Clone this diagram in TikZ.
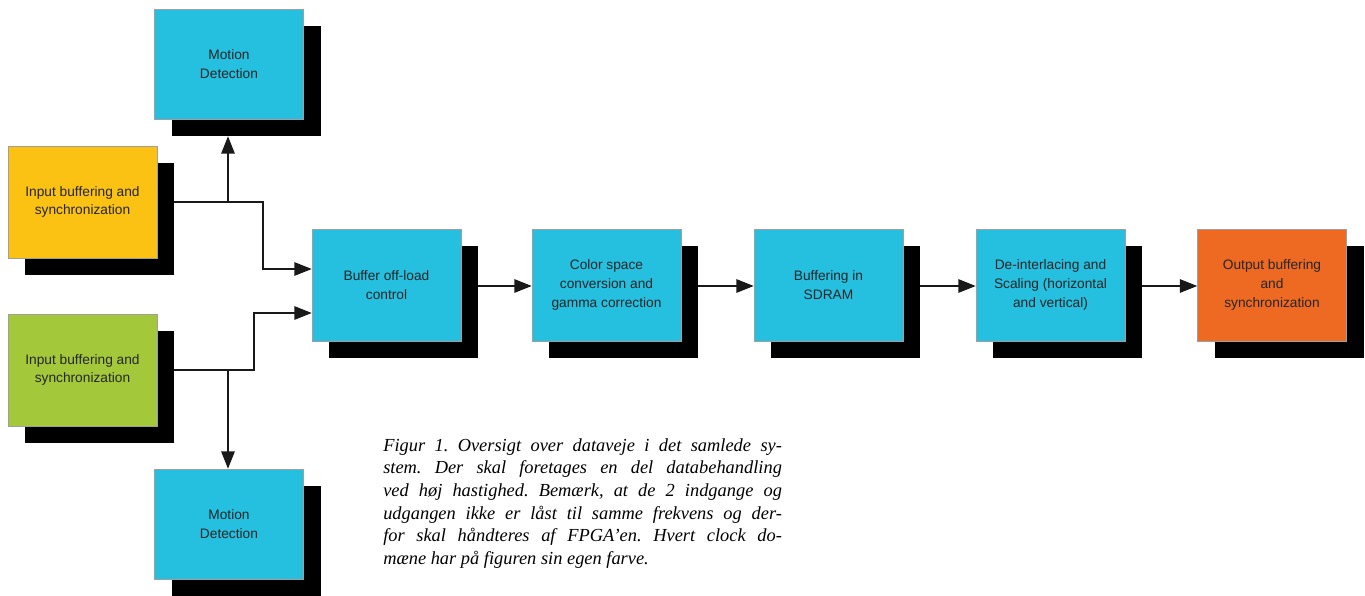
\documentclass[tikz,border=0pt]{standalone}
\usepackage{fontspec}
\setmainfont{Liberation Serif}
\newfontfamily\boxfont{Liberation Sans}
\usetikzlibrary{shadows,arrows.meta,calc}
\definecolor{cyanbox}{HTML}{25BFDF}
\definecolor{yellowbox}{HTML}{FBC214}
\definecolor{greenbox}{HTML}{A3C93A}
\definecolor{orangebox}{HTML}{EE6A22}
\begin{document}
\begin{tikzpicture}[x=0.75pt,y=-0.75pt,
  blk/.style={draw=gray!75, line width=0.4pt, minimum width=111.75pt, minimum height=84pt,
    inner sep=2pt, align=center, text=black!85,
    font=\boxfont\fontsize{10.3}{14}\selectfont,
    general shadow={fill=black, shadow xshift=12.75pt, shadow yshift=-12.75pt}},
  conn/.style={line width=1.4pt, draw=black!90},
  arr/.style={conn, -{Triangle[length=13pt,width=10pt]}}]
\useasboundingbox[fill=white] (0,0) rectangle (1365,596);

% boxes
\node[blk, fill=cyanbox, minimum height=82.5pt] (mdt) at (229,64) {Motion\\Detection};
\node[blk, fill=yellowbox] (iny) at (82.5,202) {Input buffering and\\synchronization};
\node[blk, fill=greenbox] (ing) at (82.5,370) {Input buffering and\\synchronization};
\node[blk, fill=cyanbox, minimum height=82.5pt] (mdb) at (229,524) {Motion\\Detection};
\node[blk, fill=cyanbox] (buf) at (386.5,285) {Buffer off-load\\control};
\node[blk, fill=cyanbox] (col) at (606.5,285) {Color space\\conversion and\\gamma correction};
\node[blk, fill=cyanbox] (sdr) at (828.5,285) {Buffering in\\SDRAM};
\node[blk, fill=cyanbox] (dei) at (1050.5,285) {De-interlacing and\\Scaling (horizontal\\and vertical)};
\node[blk, fill=orangebox] (out) at (1272,285) {Output buffering\\and\\synchronization};

% junction coordinates
\coordinate (jy) at (228,202);
\coordinate (jg) at (228,370);

% yellow input
\draw[arr] ($(iny.east)+(17,0)$) -- (263,202) -- (263,269) -- (buf.west |- 0,269);
\draw[arr] (jy) -- ($(mdt.south)+(-1,17)$);
% green input
\draw[arr] ($(ing.east)+(17,0)$) -- (254,370) -- (254,313) -- (buf.west |- 0,313);
\draw[arr] (jg) -- ($(mdb.north)+(-1,0)$);

% main chain
\draw[arr] ($(buf.east)+(17,1)$) -- ($(col.west)+(0,1)$);
\draw[arr] ($(col.east)+(17,1)$) -- ($(sdr.west)+(0,1)$);
\draw[arr] ($(sdr.east)+(17,1)$) -- ($(dei.west)+(0,1)$);
\draw[arr] ($(dei.east)+(17,1)$) -- ($(out.west)+(0,1)$);

% caption
\node[anchor=north west, text width=299pt, align=justify, inner sep=0pt,
  font=\itshape\fontsize{13.8}{17}\selectfont] (cap) at (383,438)
{\frenchspacing\hyphenpenalty=10000\tolerance=10000
Figur 1. Oversigt over dataveje i det samlede sy-\linebreak
stem. Der skal foretages en del databehandling\linebreak
ved høj hastighed. Bemærk, at de 2 indgange og\linebreak
udgangen ikke er låst til samme frekvens og der-\linebreak
for skal håndteres af FPGA’en. Hvert clock do-\linebreak
mæne har på figuren sin egen farve.};
\end{tikzpicture}
\end{document}
